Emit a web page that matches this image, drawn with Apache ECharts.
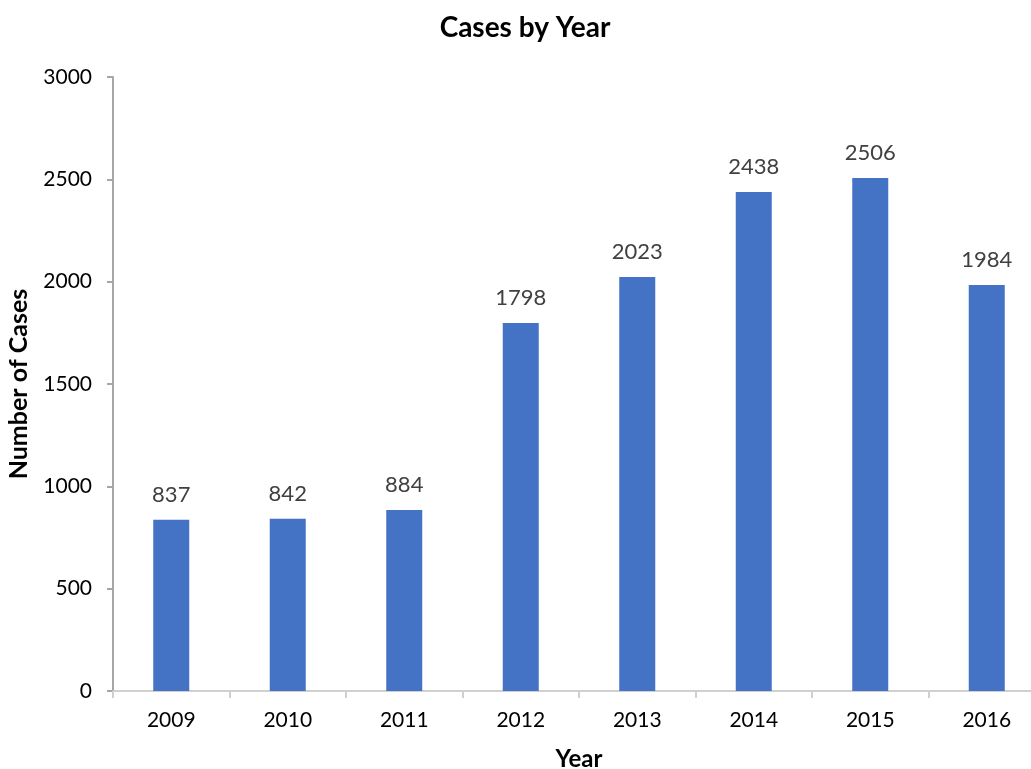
<!DOCTYPE html>
<html>
<head>
<meta charset="utf-8">
<script src="https://cdn.jsdelivr.net/npm/echarts@6/dist/echarts.min.js"></script>
<style>
  html, body { margin: 0; padding: 0; background: #fff; }
  #chart { width: 1031px; height: 769px; }
</style>
</head>
<body>
<div id="chart"></div>
<script>
const years = ['2009', '2010', '2011', '2012', '2013', '2014', '2015', '2016'];
const cases = [837, 842, 884, 1798, 2023, 2438, 2506, 1984];

const fontFamily = 'Lato, "Open Sans", sans-serif';
const chart = echarts.init(document.getElementById('chart'));

chart.setOption({
  animation: false,
  title: {
    text: 'Cases by Year',
    left: 520,
    textAlign: 'center',
    top: 9,
    textStyle: { fontFamily, fontSize: 28, fontWeight: 'bold', color: '#000' },
  },
  grid: { left: 113, top: 77, width: 932, height: 614, outerBoundsMode: 'none', containLabel: false },
  xAxis: {
    type: 'category',
    data: years,
    name: 'Year',
    nameLocation: 'middle',
    nameGap: 56,
    nameTextStyle: { fontFamily, fontSize: 24, fontWeight: 'bold', color: '#000' },
    axisLine: { lineStyle: { color: '#d0d0d0', width: 2 } },
    axisTick: { show: true, length: 7, lineStyle: { color: '#d0d0d0', width: 2 } },
    axisLabel: { fontFamily, fontSize: 21, color: '#000', margin: 19 },
  },
  yAxis: {
    type: 'value',
    min: 0,
    max: 3000,
    interval: 500,
    name: 'Number of Cases',
    nameLocation: 'middle',
    nameGap: 82,
    nameTextStyle: { fontFamily, fontSize: 25, fontWeight: 'bold', color: '#000' },
    axisLine: { show: true, lineStyle: { color: '#a6a6a6', width: 2 } },
    axisTick: { show: true, length: 6, lineStyle: { color: '#a6a6a6', width: 2 } },
    splitLine: { show: false },
    axisLabel: { fontFamily, fontSize: 21, color: '#000', margin: 21, formatter: (v) => String(v) },
  },
  series: [
    {
      type: 'bar',
      data: cases,
      barWidth: 36,
      itemStyle: { color: '#4472C4' },
      label: {
        show: true,
        position: 'top',
        distance: 14,
        fontFamily,
        fontSize: 22,
        color: '#404040',
      },
    },
  ],
});
</script>
</body>
</html>
